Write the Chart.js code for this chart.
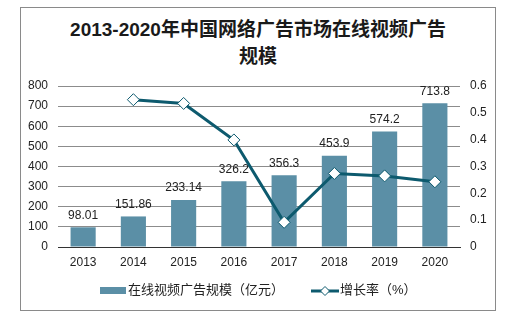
<!DOCTYPE html>
<html>
<head>
<meta charset="utf-8">
<script src="https://cdn.jsdelivr.net/npm/chart.js@4/dist/chart.umd.min.js"></script>
<style>
  html, body { margin: 0; padding: 0; background: #fff; }
  #wrap { position: relative; width: 509px; height: 324px; overflow: hidden; }
  #frame { position: absolute; left: 20px; top: 7px; width: 474px; height: 302px; border: 1px solid #8a8a8a; }
  #title { position: absolute; left: 20px; width: 476px; top: 16px; text-align: center;
    font: bold 19px "Liberation Sans", "Noto Sans CJK SC", sans-serif; line-height: 27px; color: #1a1a1a; }
  .lg { position: absolute; top: 281px; font: 13px "Liberation Sans", "Noto Sans CJK SC", sans-serif; color: #222; line-height: 18px; }
  canvas { position: absolute; left: 0; top: 0; }
</style>
</head>
<body>
<div id="wrap">
  <div id="frame"></div>
  <div id="title">2013-2020年中国网络广告市场在线视频广告<br>规模</div>
  <canvas id="myChart" width="509" height="324"></canvas>
  <div class="lg" style="left:100px;"><span style="display:inline-block;width:26px;height:7px;background:#5b8fa6;vertical-align:middle;margin-right:2px;"></span>在线视频广告规模（亿元）</div>
  <div class="lg" style="left:311px;"><canvas id="lgline" width="28" height="12" style="position:static;vertical-align:middle;margin-right:1px;"></canvas>增长率（%）</div>
</div>
<script>
var years = ['2013', '2014', '2015', '2016', '2017', '2018', '2019', '2020'];
var scale = [98.01, 151.86, 233.14, 326.2, 356.3, 453.9, 574.2, 713.8];
var scaleLabels = ['98.01', '151.86', '233.14', '326.2', '356.3', '453.9', '574.2', '713.8'];
var growth = [null, 0.549, 0.535, 0.399, 0.092, 0.274, 0.265, 0.243];

var barColor = '#5b8fa6';
var lineColor = '#0d5a6e';
var fontFam = '"Liberation Sans", "Noto Sans CJK SC", sans-serif';

// little legend mark for the line series
var lc = document.getElementById('lgline').getContext('2d');
lc.strokeStyle = lineColor; lc.lineWidth = 3;
lc.beginPath(); lc.moveTo(0, 6); lc.lineTo(28, 6); lc.stroke();
lc.fillStyle = '#fff'; lc.lineWidth = 1;
lc.beginPath(); lc.moveTo(14, 1.5); lc.lineTo(18.5, 6); lc.lineTo(14, 10.5); lc.lineTo(9.5, 6); lc.closePath();
lc.fill(); lc.stroke();

// value labels above the bars (bar dataset is index 1)
var valueLabels = {
  id: 'valueLabels',
  beforeDatasetsDraw: function(chart) {
    var ctx = chart.ctx;
    var meta = chart.getDatasetMeta(1);
    ctx.save();
    ctx.font = '12px ' + fontFam;
    ctx.fillStyle = '#222';
    ctx.textAlign = 'center';
    ctx.textBaseline = 'bottom';
    meta.data.forEach(function(bar, i) {
      ctx.fillText(scaleLabels[i], bar.x, bar.y - 6);
    });
    ctx.restore();
  }
};

var ctx = document.getElementById('myChart').getContext('2d');
var myChart = new Chart(ctx, {
  data: {
    labels: years,
    datasets: [
      {
        type: 'line',
        label: '增长率（%）',
        data: growth,
        yAxisID: 'y1',
        borderColor: lineColor,
        borderWidth: 3,
        pointStyle: 'rectRot',
        pointRadius: 6,
        pointBackgroundColor: '#fff',
        pointBorderColor: lineColor,
        pointBorderWidth: 1,
        tension: 0,
        order: 0
      },
      {
        type: 'bar',
        label: '在线视频广告规模（亿元）',
        data: scale,
        yAxisID: 'y',
        backgroundColor: barColor,
        barPercentage: 0.5,
        categoryPercentage: 1,
        order: 1
      }
    ]
  },
  plugins: [valueLabels],
  options: {
    responsive: false,
    animation: false,
    layout: { padding: { left: 0, right: 0, top: 86, bottom: 0 } },
    plugins: {
      legend: { display: false },
      title: { display: false },
      tooltip: { enabled: false }
    },
    scales: {
      x: {
        grid: { display: false, drawTicks: false },
        border: { display: true, color: '#333', width: 1 },
        ticks: { color: '#222', font: { size: 12, family: fontFam }, padding: 8 },
        afterFit: function(s) { s.height = 77; }
      },
      y: {
        position: 'left',
        min: 0, max: 800,
        ticks: { stepSize: 100, color: '#222', font: { size: 12, family: fontFam }, padding: 10 },
        grid: { color: '#8c8c8c', drawTicks: false },
        border: { display: false },
        afterFit: function(s) { s.width = 58; }
      },
      y1: {
        position: 'right',
        min: 0, max: 0.6,
        ticks: { stepSize: 0.1, color: '#222', font: { size: 12, family: fontFam }, padding: 10,
          callback: function(v) { return Math.round(v * 10) / 10; } },
        grid: { display: false, drawTicks: false },
        border: { display: false },
        afterFit: function(s) { s.width = 49; }
      }
    }
  }
});
</script>
</body>
</html>
